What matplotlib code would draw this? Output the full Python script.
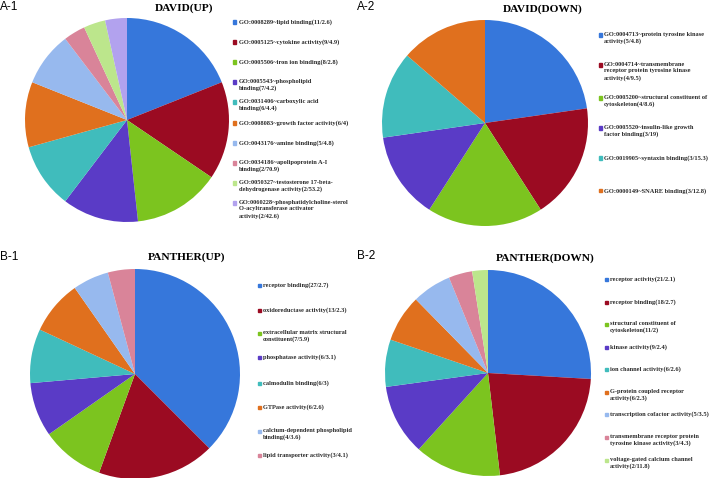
import matplotlib
matplotlib.use("Agg")
import matplotlib.pyplot as plt

W, H = 718, 478

colors = ["#3677DB", "#9B0B22", "#7CC41F", "#5A3BC6", "#40BCBC",
          "#E0701E", "#97B9EE", "#D98499", "#BCE68C", "#B2A2EE"]

# ---- data ----
a1_labels = ["GO:0008289~lipid binding(11/2.6)",
             "GO:0005125~cytokine activity(9/4.9)",
             "GO:0005506~iron ion binding(8/2.8)",
             "GO:0005543~phospholipid\nbinding(7/4.2)",
             "GO:0031406~carboxylic acid\nbinding(6/4.4)",
             "GO:0008083~growth factor activity(6/4)",
             "GO:0043176~amine binding(5/4.8)",
             "GO:0034186~apolipoprotein A-I\nbinding(2/70.9)",
             "GO:0050327~testosterone 17-beta-\ndehydrogenase activity(2/53.2)",
             "GO:0060228~phosphatidylcholine-sterol\nO-acyltransferase activator\nactivity(2/42.6)"]
a1_values = [11, 9, 8, 7, 6, 6, 5, 2, 2, 2]

a2_labels = ["GO:0004713~protein tyrosine kinase\nactivity(5/4.8)",
             "GO:0004714~transmembrane\nreceptor protein tyrosine kinase\nactivity(4/9.5)",
             "GO:0005200~structural constituent of\ncytoskeleton(4/8.6)",
             "GO:0005520~insulin-like growth\nfactor binding(3/19)",
             "GO:0019905~syntaxin binding(3/15.3)",
             "GO:0000149~SNARE binding(3/12.8)"]
a2_values = [5, 4, 4, 3, 3, 3]

b1_labels = ["receptor binding(27/2.7)",
             "oxidoreductase activity(13/2.3)",
             "extracellular matrix structural\nconstituent(7/5.9)",
             "phosphatase activity(6/3.1)",
             "calmodulin binding(6/3)",
             "GTPase activity(6/2.6)",
             "calcium-dependent phospholipid\nbinding(4/3.6)",
             "lipid transporter activity(3/4.1)"]
b1_values = [27, 13, 7, 6, 6, 6, 4, 3]

b2_labels = ["receptor activity(21/2.1)",
             "receptor binding(18/2.7)",
             "structural constituent of\ncytoskeleton(11/2)",
             "kinase activity(9/2.4)",
             "ion channel activity(6/2.6)",
             "G-protein coupled receptor\nactivity(6/2.3)",
             "transcription cofactor activity(5/3.5)",
             "transmembrane receptor protein\ntyrosine kinase activity(3/4.3)",
             "voltage-gated calcium channel\nactivity(2/11.8)"]
b2_values = [21, 18, 11, 9, 6, 6, 5, 3, 2]

titles = ["DAVID(UP)", "DAVID(DOWN)", "PANTHER(UP)", "PANTHER(DOWN)"]
panel_tags = ["A-1", "A-2", "B-1", "B-2"]

fig = plt.figure(figsize=(W / 100, H / 100), dpi=100)

def fx(x):
    return x / W

def fy(y):
    return 1 - y / H

def draw_panel(cx, cy, r, values, labels, title, title_xy, tag, tag_xy,
               mx, ys):
    ax = fig.add_axes([fx(cx - r), fy(cy + r), 2 * r / W, 2 * r / H])
    ax.pie(values, colors=colors[:len(values)], startangle=90,
           counterclock=False, radius=1.0,
           wedgeprops=dict(linewidth=0))
    ax.set_xlim(-1.0, 1.0)
    ax.set_ylim(-1.0, 1.0)
    ax.set_aspect("equal")
    ax.axis("off")
    fig.text(fx(title_xy[0]), fy(title_xy[1]), title, ha="center", va="center",
             fontsize=8.2, fontweight="bold", family="Liberation Serif")
    fig.text(fx(tag_xy[0]), fy(tag_xy[1]), tag, ha="left", va="center",
             fontsize=8.5, family="Liberation Sans")
    for i, (lab, y) in enumerate(zip(labels, ys)):
        fig.patches.append(plt.Rectangle((fx(mx - 1.5), fy(y + 1.5)), 3 / W, 3 / H,
                                         transform=fig.transFigure,
                                         color=colors[i], figure=fig))
        fig.text(fx(mx + 4), fy(y - 3.2), lab, ha="left", va="top",
                 fontsize=4.6, fontweight="bold", family="Liberation Serif",
                 color="#2a2a2a", linespacing=1.4)

draw_panel(127, 120, 102, a1_values, a1_labels, titles[0], (184, 8),
           panel_tags[0], (0, 7), 235,
           [22, 42, 62, 82, 102, 123, 143, 163, 183, 203])
draw_panel(485, 123, 103, a2_values, a2_labels, titles[1], (543, 9),
           panel_tags[1], (357, 7), 600,
           [35, 65, 98, 128, 158, 191])
draw_panel(135, 374, 105, b1_values, b1_labels, titles[2], (187, 257),
           panel_tags[2], (0, 257), 259,
           [285, 310, 333, 357, 383, 407, 431, 455])
draw_panel(488, 373, 103, b2_values, b2_labels, titles[3], (545, 258),
           panel_tags[3], (357, 256), 606,
           [279, 302, 324, 347, 369, 392, 414, 437, 460])

fig.savefig("out.png", dpi=100, facecolor="white")
